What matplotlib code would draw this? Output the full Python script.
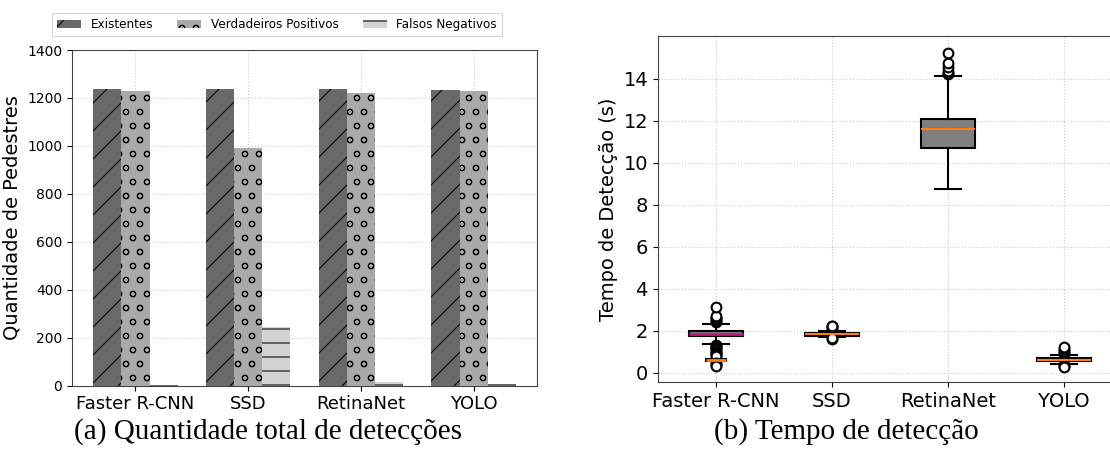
import matplotlib
matplotlib.use("Agg")
import matplotlib.pyplot as plt
import numpy as np

# ---------------- data ----------------
models = ["Faster R-CNN", "SSD", "RetinaNet", "YOLO"]
existentes = [1236, 1236, 1236, 1235]
verdadeiros_positivos = [1231, 991, 1220, 1228]
falsos_negativos = [5, 245, 16, 7]

# box-plot summary statistics (seconds)
box_med = [1.86, 1.83, 11.62, 0.60]
box_q1 = [1.72, 1.76, 10.70, 0.53]
box_q3 = [1.98, 1.88, 12.10, 0.68]
box_whislo = [1.36, 1.68, 8.75, 0.40]
box_whishi = [2.33, 1.98, 14.15, 0.82]
fliers_frcnn = [2.42, 2.48, 2.52, 2.58, 2.62, 2.68, 3.12,
                1.30, 1.25, 1.20, 1.15, 1.10, 1.05, 1.00, 0.95, 0.90, 0.85, 0.80,
                0.45, 0.40, 0.35, 0.30]
fliers_ssd = [2.05, 2.10, 2.15, 2.20, 2.22, 1.62, 1.66]
fliers_retina = [14.22, 14.30, 14.40, 14.55, 14.75, 15.25]
fliers_yolo = [0.90, 0.98, 1.05, 1.12, 1.20, 0.35, 0.30, 0.26]
# secondary Faster R-CNN box
box2_med = [0.60]
box2_q1 = [0.56]
box2_q3 = [0.65]

# ---------------- figure ----------------
DPI = 84
S = 100 / DPI  # keeps sizes as if drawn at 100 dpi
plt.rcParams.update({
    "axes.linewidth": 0.8 * S,
    "xtick.major.size": 3.5 * S, "ytick.major.size": 3.5 * S,
    "xtick.major.width": 0.8 * S, "ytick.major.width": 0.8 * S,
    "xtick.major.pad": 3.5 * S, "ytick.major.pad": 3.5 * S,
    "axes.labelpad": 4.0 * S,
    "hatch.linewidth": 0.9,
    "legend.frameon": True,
})

W, H = 1110, 453
fig = plt.figure(figsize=(W / DPI, H / DPI), dpi=DPI)

ax1 = fig.add_axes([72 / W, (H - 385.7) / H, 465 / W, 335.7 / H])
ax2 = fig.add_axes([658 / W, (H - 382) / H, 464 / W, 346 / H])

spine_col = "#444444"
grid_kw = dict(color="#cccccc", linestyle=":", linewidth=0.8 * S)

# ---- left: bars ----
x = np.arange(len(models))
w = 0.25
ax1.bar(x - w, existentes, w, color="#696969", hatch="/", edgecolor="black",
        linewidth=0, label="Existentes", zorder=3)
ax1.bar(x, verdadeiros_positivos, w, color="#a9a9a9", hatch="o", edgecolor="black",
        linewidth=0, label="Verdadeiros Positivos", zorder=3)
ax1.bar(x + w, falsos_negativos, w, color="#d3d3d3", hatch="-", edgecolor="black",
        linewidth=0, label="Falsos Negativos", zorder=3)
ax1.set_xticks(x)
ax1.set_xticklabels(models, fontsize=13 * S)
ax1.set_ylim(0, 1400)
ax1.set_yticks(range(0, 1401, 200))
ax1.tick_params(axis="y", labelsize=10 * S)
ax1.set_ylabel("Quantidade de Pedestres", fontsize=14 * S)
ax1.grid(True, **grid_kw, zorder=0)
ax1.set_axisbelow(True)
for s in ax1.spines.values():
    s.set_color(spine_col)
ax1.legend(ncol=3, loc="lower left", bbox_to_anchor=(-0.043, 1.042), borderaxespad=0,
           fontsize=10.3, fancybox=False, edgecolor="#cccccc")

# ---- right: box plots ----
fl = [fliers_frcnn, fliers_ssd, fliers_retina, fliers_yolo]
stats = []
for i in range(len(models)):
    stats.append(dict(med=box_med[i], q1=box_q1[i], q3=box_q3[i],
                      whislo=box_whislo[i], whishi=box_whishi[i], fliers=fl[i]))

lw = 1.5 * S
bp = ax2.bxp(stats, positions=[1, 2, 3, 4], patch_artist=True, widths=0.46,
             boxprops=dict(facecolor="#808080", edgecolor="black", linewidth=lw),
             whiskerprops=dict(color="black", linewidth=lw),
             capprops=dict(color="black", linewidth=lw),
             flierprops=dict(marker="o", markerfacecolor="white", markeredgecolor="black",
                             markersize=7 * S, markeredgewidth=lw),
             medianprops=dict(color="#ff7f0e", linewidth=lw))
bp["medians"][0].set_color("#c71585")
bp["medians"][0].set_linewidth(2 * S)

stats2 = [dict(med=box2_med[0], q1=box2_q1[0], q3=box2_q3[0],
               whislo=box2_q1[0], whishi=box2_q3[0], fliers=[])]
ax2.bxp(stats2, positions=[1], patch_artist=True, widths=0.17, showcaps=False,
        boxprops=dict(facecolor="#808080", edgecolor="black", linewidth=lw),
        whiskerprops=dict(color="black", linewidth=lw),
        medianprops=dict(color="#ff7f0e", linewidth=2 * S))

ax2.set_xlim(0.5, 4.5)
ax2.set_xticks([1, 2, 3, 4])
ax2.set_xticklabels(models, fontsize=14 * S)
ax2.set_ylim(-0.45, 16.05)
ax2.set_yticks(range(0, 15, 2))
ax2.tick_params(axis="y", labelsize=14 * S)
ax2.set_ylabel("Tempo de Detecção (s)", fontsize=14 * S)
ax2.grid(True, **grid_kw)
ax2.set_axisbelow(True)
for s in ax2.spines.values():
    s.set_color(spine_col)

# ---- captions ----
fig.text(268 / W, 1 - 432 / H, "(a) Quantidade total de detecções",
         ha="center", va="center", fontsize=21 * S, family="Liberation Serif")
fig.text(846 / W, 1 - 432 / H, "(b) Tempo de detecção",
         ha="center", va="center", fontsize=21 * S, family="Liberation Serif")

fig.savefig("out.png", dpi=DPI)
